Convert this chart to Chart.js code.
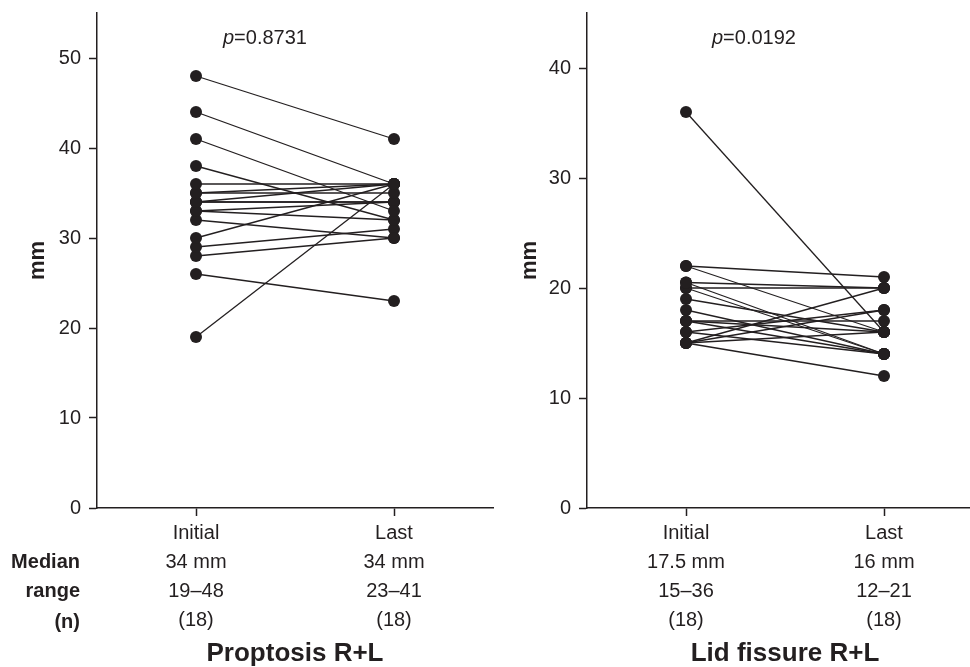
<!DOCTYPE html>
<html><head><meta charset="utf-8">
<script src="https://cdn.jsdelivr.net/npm/chart.js@4/dist/chart.umd.min.js"></script>
<style>
html,body{margin:0;padding:0;background:#fff;overflow:hidden;width:970px;height:667px;position:relative;}
.wrap{position:absolute;left:0;top:0;height:667px;}
canvas{display:block;}
</style></head><body>
<div class="wrap" style="width:970px"><canvas id="c1" width="970" height="667"></canvas></div>
<div class="wrap" style="width:1000px"><canvas id="c2" width="1000" height="667"></canvas></div>
<script>
// ---- data ----
const timepoints = ['Initial', 'Last'];
const rowLabels = ['Median', 'range', '(n)'];

const proptosisInitial = [48, 44, 41, 38, 36, 35, 35, 34, 34, 34, 33, 33, 32, 30, 29, 28, 26, 19];
const proptosisLast    = [41, 36, 33, 32, 36, 35, 36, 34, 36, 34, 34, 32, 30, 36, 31, 30, 23, 36];
const proptosisMedian = ['34 mm', '34 mm'];
const proptosisRange  = ['19–48', '23–41'];
const proptosisN      = ['(18)', '(18)'];
const proptosisP = '0.8731';
const proptosisTitle = 'Proptosis R+L';
const proptosisYTicks = [0, 10, 20, 30, 40, 50];

const lidInitial = [36, 22, 22, 20.5, 20.5, 20, 20, 19, 18, 17, 17, 17, 16, 16, 15, 15, 15, 15];
const lidLast    = [16, 21, 16, 20, 14, 20, 14, 16, 14, 17, 14, 16, 18, 14, 18, 16, 12, 20];
const lidMedian = ['17.5 mm', '16 mm'];
const lidRange  = ['15–36', '12–21'];
const lidN      = ['(18)', '(18)'];
const lidP = '0.0192';
const lidTitle = 'Lid fissure R+L';
const lidYTicks = [0, 10, 20, 30, 40];

// ---- styling ----
const INK = '#231f20';
const FONT = "'Liberation Sans', Arial, Helvetica, sans-serif";
const LH = 29;

const annot = {
  id: 'annot',
  afterDraw(chart, args, o) {
    const ctx = chart.ctx;
    ctx.save();
    ctx.fillStyle = INK;
    ctx.textBaseline = 'middle';
    ctx.textAlign = 'left';
    ctx.font = 'italic 20px ' + FONT;
    ctx.fillText('p', o.px, o.py);
    const w = ctx.measureText('p').width;
    ctx.font = '20px ' + FONT;
    ctx.fillText('=' + o.pText, o.px + w, o.py);
    if (o.rows) {
      ctx.font = 'bold 20px ' + FONT;
      ctx.textAlign = 'right';
      const xs = chart.scales.x;
      const y0 = xs.top + 8 + 3 + LH / 2;
      o.rows.forEach((t, i) => ctx.fillText(t, o.rowX, y0 + (i + 1) * LH + (i === 2 ? 2 : 0)));
    }
    ctx.restore();
  }
};

function makeChart(id, init, last, median, range, n, yMax, yTicks, title, pText, L) {
  const datasets = init.map((v, i) => ({
    data: [{x: 0, y: v}, {x: 1, y: last[i]}],
    borderColor: INK, borderWidth: 1.3,
    pointRadius: 6, pointHoverRadius: 6,
    pointBackgroundColor: INK, pointBorderColor: INK, pointBorderWidth: 0,
    fill: false, tension: 0
  }));
  return new Chart(document.getElementById(id), {
    type: 'line',
    data: {datasets},
    plugins: [annot],
    options: {
      responsive: false, animation: false,
      layout: {padding: {left: L.padLeft, right: L.padRight, top: 13, bottom: 0}},
      plugins: {
        legend: {display: false}, tooltip: {enabled: false},
        annot: {px: L.px, py: 38, pText, rows: L.rows, rowX: 80}
      },
      scales: {
        x: {
          type: 'linear', min: -0.5, max: 1.5,
          afterBuildTicks: s => { s.ticks = [{value: 0}, {value: 1}]; },
          afterFit: s => { s.height = 159; s.paddingLeft = 0; s.paddingRight = 0; },
          grid: {drawOnChartArea: false, drawTicks: true, tickLength: 8, tickColor: INK, tickWidth: 1.5},
          border: {display: true, color: INK, width: 1.5},
          ticks: {
            padding: 3, color: INK, autoSkip: false, maxRotation: 0,
            font: {family: FONT, size: 20, lineHeight: LH / 20},
            callback: (v) => [timepoints[v], median[v], range[v], n[v]]
          },
          title: {display: true, text: title, color: INK,
                  font: {family: FONT, size: 26, weight: 'bold', lineHeight: 1},
                  padding: {top: 0, bottom: 0}}
        },
        y: {
          min: 0, max: yMax,
          afterBuildTicks: s => { s.ticks = yTicks.map(v => ({value: v})); },
          afterFit: s => { s.width = L.yWidth; s.paddingTop = 0; s.paddingBottom = 0; },
          grid: {drawOnChartArea: false, drawTicks: true, tickLength: 8, tickColor: INK, tickWidth: 1.5},
          border: {display: true, color: INK, width: 1.5},
          ticks: {padding: 8, color: INK, font: {family: FONT, size: 20}},
          title: {display: true, text: 'mm', color: INK,
                  font: {family: FONT, size: 22, weight: 'bold'}}
        }
      }
    }
  });
}

makeChart('c1', proptosisInitial, proptosisLast, proptosisMedian, proptosisRange, proptosisN,
  55, proptosisYTicks, proptosisTitle, proptosisP,
  {padLeft: 21, yWidth: 76, padRight: 477, px: 223, rows: rowLabels});
makeChart('c2', lidInitial, lidLast, lidMedian, lidRange, lidN,
  45, lidYTicks, lidTitle, lidP,
  {padLeft: 513, yWidth: 74, padRight: 17, px: 712, rows: null});
</script>
</body></html>
